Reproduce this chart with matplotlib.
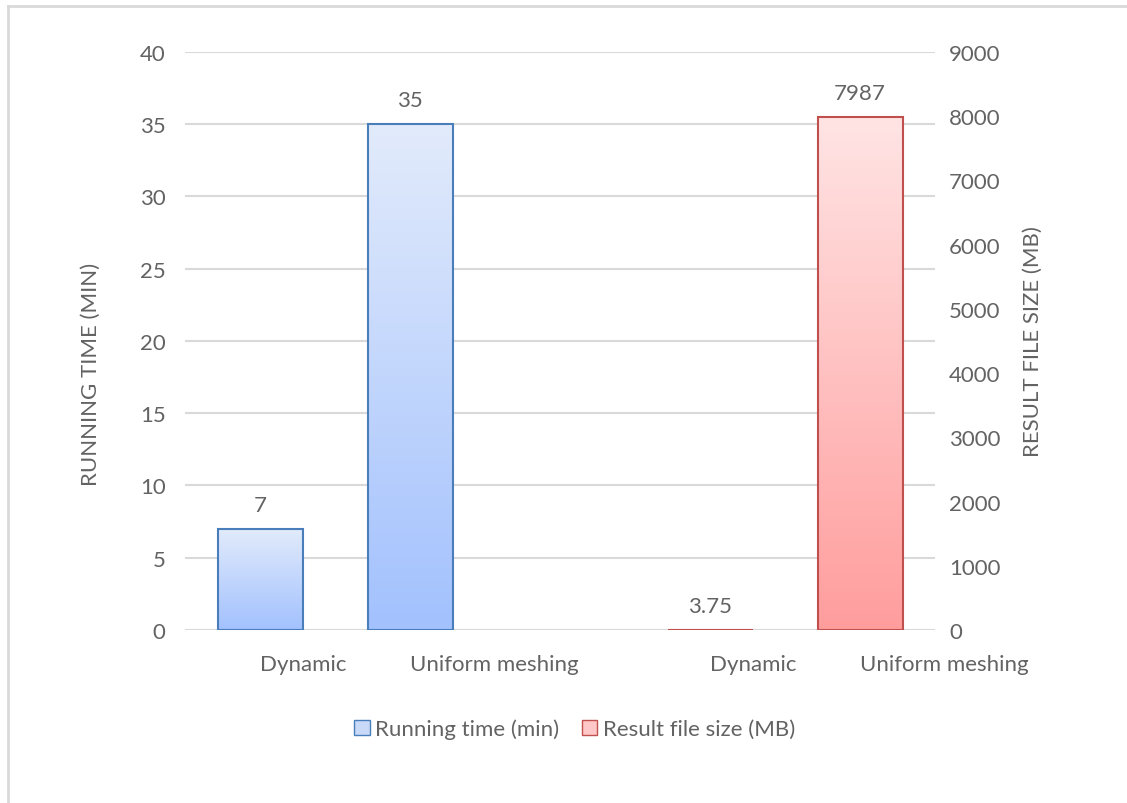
import numpy as np
import matplotlib.pyplot as plt
from matplotlib.patches import Patch

categories = ["Dynamic", "Uniform meshing", "Dynamic", "Uniform meshing"]
running_time = [7, 35]          # min, left axis
file_size = [3.75, 7987]        # MB, right axis
time_labels = ["7", "35"]
size_labels = ["3.75", "7987"]

TXT = "#636363"
GRID = "#D9D9D9"
FS = 16
plt.rcParams['font.family'] = ['Lato', 'DejaVu Sans']

fig = plt.figure(figsize=(11.27, 8.04), dpi=100)
ax = fig.add_axes([0.1642, 0.2152, 0.6655, 0.7189])
ax2 = ax.twinx()

pos_time = [0, 1]
pos_size = [3, 4]
width = 0.567


def grad_bars(a, xs, vals, top_col, bot_col, edge):
    bars = a.bar(xs, vals, width, color="none", edgecolor=edge, linewidth=1.5, zorder=3)
    c1 = np.array(plt.matplotlib.colors.to_rgb(top_col))
    c2 = np.array(plt.matplotlib.colors.to_rgb(bot_col))
    t = np.linspace(0, 1, 256)[:, None]
    img = (c1 * (1 - t) + c2 * t)[:, None, :]
    for b in bars:
        x0, y0 = b.get_x(), b.get_y()
        w, h = b.get_width(), b.get_height()
        im = a.imshow(img, extent=[x0, x0 + w, y0, y0 + h], aspect="auto",
                      origin="upper", zorder=2)
        im.set_clip_path(b)
    return bars


grad_bars(ax, pos_time, running_time, "#E2EBFB", "#A2C1FE", "#4A7EBB")
grad_bars(ax2, pos_size, file_size, "#FFE4E4", "#FF9D9D", "#C0504D")

ax.set_xlim(-0.5, 4.5)
ax.set_ylim(0, 40)
ax2.set_ylim(0, 9000)
ax.set_yticks(range(0, 41, 5))
ax2.set_yticks(range(0, 9001, 1000))
ax.yaxis.grid(True, color=GRID, linewidth=1.5, zorder=0)
ax.set_axisbelow(True)

for a in (ax, ax2):
    for s in a.spines.values():
        s.set_visible(False)
    a.tick_params(length=0, labelsize=FS, labelcolor=TXT)
ax.tick_params(axis="y", pad=14)
ax2.tick_params(axis="y", pad=10)

ax.set_xticks(pos_time + pos_size)
ax.set_xticklabels(categories, ha="left")
ax.tick_params(axis="x", pad=17)

ax.set_ylabel("RUNNING TIME (MIN)", fontsize=FS, color=TXT)
ax.yaxis.set_label_coords(-0.112, 0.443)
ax2.set_ylabel("RESULT FILE SIZE (MB)", fontsize=FS, color=TXT)
ax2.yaxis.set_label_coords(1.117, 0.5)

for x, v, s in zip(pos_time, running_time, time_labels):
    ax.annotate(s, (x, v), xytext=(0, 10), textcoords="offset points",
                ha="center", va="bottom", fontsize=FS, color=TXT)
for x, v, s in zip(pos_size, file_size, size_labels):
    ax2.annotate(s, (x, v), xytext=(0, 10), textcoords="offset points",
                 ha="center", va="bottom", fontsize=FS, color=TXT)

handles = [Patch(facecolor="#C9DAF8", edgecolor="#4A7EBB", label="Running time (min)"),
           Patch(facecolor="#FFC8C8", edgecolor="#C0504D", label="Result file size (MB)")]
fig.legend(handles=handles, loc="center", bbox_to_anchor=(0.51, 0.092), ncol=2,
           frameon=False, fontsize=FS, labelcolor=TXT, handlelength=0.7,
           handleheight=0.7, handletextpad=0.25, columnspacing=1.0)

# chart area border (left and top edges visible)
fig.add_artist(plt.Line2D([0.0075, 0.0075], [0, 0.991], color=GRID, lw=2))
fig.add_artist(plt.Line2D([0.0075, 1], [0.991, 0.991], color=GRID, lw=2))

fig.savefig("out.png", dpi=100)
